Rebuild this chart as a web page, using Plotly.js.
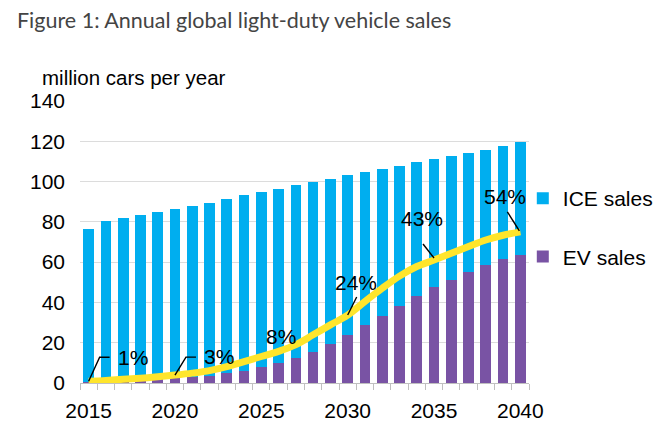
<!DOCTYPE html>
<html><head><meta charset="utf-8">
<script src="https://cdn.plot.ly/plotly-3.0.1.min.js"></script>
<style>html,body{margin:0;padding:0;background:#fff}#chart{width:669px;height:438px}</style>
</head><body><div id="chart"></div>
<script>
// ---- data ----
const years = [2015,2016,2017,2018,2019,2020,2021,2022,2023,2024,2025,2026,2027,2028,2029,2030,2031,2032,2033,2034,2035,2036,2037,2038,2039,2040];
const evSales = [0.5,0.7,1.0,1.4,1.8,2.4,3.0,3.7,5.0,6.0,7.9,9.9,12.3,15.4,19.4,23.9,28.6,33.1,38.3,43.3,47.5,51.2,54.9,58.7,61.4,63.6];
const iceSales = [75.8,79.9,81.1,82.0,83.1,83.9,84.8,85.9,86.3,87.1,86.9,86.5,85.9,84.5,82.1,79.3,76.1,73.1,69.5,66.2,63.6,61.4,59.5,57.2,56.1,55.8];
const evSharePct = [0.6,0.9,1.3,1.7,2.2,2.8,3.5,4.4,5.8,7.6,9.4,11.2,13.6,17.1,20.6,24.1,28.9,33.6,37.9,41.3,43.6,46.0,48.4,50.7,52.4,53.6];
const tickYears = [2015,2020,2025,2030,2035,2040];
const tickLabels = ['2015','2020','2025','2030','2035','2040'];
const yTicks = [0,20,40,60,80,100,120,140];
const yTickLabels = ['0','20','40','60','80','100','120','140'];
const labelYears = [2015,2020,2025,2030,2035,2040];
const labelTexts = ['1%','3%','8%','24%','43%','54%'];

// ---- styling of the share labels (pixel offsets from the line point) ----
const labelStyle = {
  2015:{dx:44.5, dy:24, leader:'M0,0L11,24L21,24'},
  2020:{dx:43.6, dy:18.5, leader:'M0,0L11,18L21,18'},
  2025:{dx:20, dy:20, leader:null},
  2030:{dx:8.5, dy:33, leader:'M0,0L9,18'},
  2035:{dx:-12, dy:42, leader:'M0,2L-11,16'},
  2040:{dx:-15.7, dy:35, leader:'M-1,1L-13,20'}
};

const font = 'Liberation Sans, Arial, sans-serif';
const ICE = '#00AEEF', EV = '#7953A4', YEL = '#FFE52C';

const shareAt = y => evSharePct[years.indexOf(y)];

const annotations = labelYears.map((yr,i)=>({
  xref:'x', yref:'y2', x:yr, y:shareAt(yr), text:labelTexts[i], showarrow:false,
  xshift:labelStyle[yr].dx, yshift:labelStyle[yr].dy,
  font:{family:font, size:21, color:'#000'}
}));
annotations.push({
  xref:'paper', yref:'paper', x:-0.089, y:1.0816, xanchor:'left', yanchor:'middle',
  text:'million cars per year', showarrow:false, font:{family:font, size:20.5, color:'#000'}
});

const shapes = labelYears.filter(yr=>labelStyle[yr].leader).map(yr=>({
  type:'path', xref:'x', yref:'y2', xsizemode:'pixel', ysizemode:'pixel',
  xanchor:yr, yanchor:shareAt(yr), path:labelStyle[yr].leader,
  line:{color:'#000', width:1.4}
}));

const traces = [
  {type:'bar', x:years, y:evSales, name:'EV sales', legendgroup:'ev', legendrank:2, marker:{color:EV}, width:0.62, hoverinfo:'skip'},
  {type:'bar', x:years, y:iceSales, name:'ICE sales', legendgroup:'ice', legendrank:1, marker:{color:ICE}, width:0.62, hoverinfo:'skip'},
  {type:'scatter', mode:'lines', x:years, y:evSharePct, yaxis:'y2', showlegend:false,
   line:{color:YEL, width:7, shape:'spline', smoothing:1}, hoverinfo:'skip'}
];

const layout = {
  width:669, height:438,
  margin:{l:80, r:139, t:101, b:55},
  paper_bgcolor:'#fff', plot_bgcolor:'#fff',
  barmode:'stack',
  title:{text:'Figure 1: Annual global light-duty vehicle sales', x:17/669, xanchor:'left', xref:'container',
         y:1-20/438, yanchor:'middle', yref:'container', font:{family:'Lato, sans-serif', size:21.5, color:'#444'}},
  xaxis:{type:'linear', range:[2014.5,2040.5], tickmode:'array', tickvals:tickYears, ticktext:tickLabels,
         ticks:'', showline:true, linecolor:'#c0c0c0', linewidth:1, showgrid:false, zeroline:false,
         ticklabelstandoff:9,
         tickfont:{family:font, size:21, color:'#000'},
         minor:{tickmode:'linear', tick0:2014.5, dtick:1, ticks:'outside', ticklen:6, tickcolor:'#c0c0c0', tickwidth:1, showgrid:false}},
  yaxis:{range:[0,140], tickmode:'array', tickvals:yTicks, ticktext:yTickLabels, showgrid:true, gridcolor:'#dcdcdc', gridwidth:1,
         zeroline:false, showline:false, ticks:'', ticklabelstandoff:14,
         tickfont:{family:font, size:21, color:'#000'}},
  yaxis2:{range:[0,100], overlaying:'y', visible:false},
  showlegend:true,
  legend:{x:0.984, xanchor:'left', y:0.727, yanchor:'top', traceorder:'grouped', tracegroupgap:28,
          font:{family:font, size:21, color:'#000'}, bgcolor:'rgba(0,0,0,0)'},
  annotations:annotations,
  shapes:shapes
};

Plotly.newPlot('chart', traces, layout, {displayModeBar:false, staticPlot:true});
</script>
</body></html>
